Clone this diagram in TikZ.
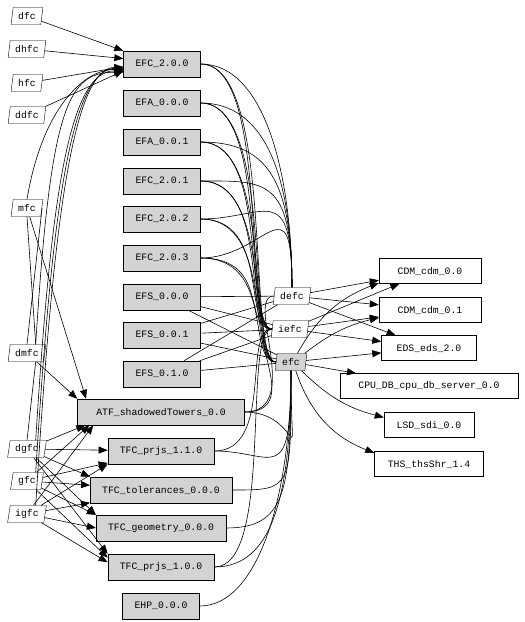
\documentclass[tikz,border=0pt]{standalone}
\usepackage{fontspec}
\setmonofont{Liberation Mono}
\usetikzlibrary{arrows.meta,shapes.geometric}
\definecolor{boxgray}{HTML}{D3D3D3}

\begin{document}
\begin{tikzpicture}[x=1pt,y=-1pt,
  every node/.style={font=\ttfamily\fontsize{9.8}{11}\selectfont},
  comp/.style={draw,fill=boxgray,minimum height=26pt,inner xsep=12pt,inner ysep=0pt},
  res/.style={draw,fill=white,minimum height=25pt,inner sep=0pt},
  proc/.style={draw,fill=white,trapezium,trapezium left angle=74,trapezium right angle=106,trapezium stretches=true,minimum height=17pt,inner xsep=5pt,inner ysep=0pt},
  dep/.style={line width=0.6pt},
  arr/.style={line width=0.6pt,-{Triangle[length=9pt,width=7pt]}}]
\useasboundingbox (0,0) rectangle (525,622);
% fc nodes on the left
\foreach \n/\y in {dfc/16,dhfc/49,hfc/83,ddfc/115,mfc/208,dmfc/353,dgfc/449,gfc/481,igfc/514}
  \node[proc] (\n) at (27,\y) {\n};
% components
\foreach \n/\t/\y in {EFC200/EFC\_2.0.0/64,EFA000/EFA\_0.0.0/103,EFA001/EFA\_0.0.1/142,EFC201/EFC\_2.0.1/181,EFC202/EFC\_2.0.2/219,EFC203/EFC\_2.0.3/258,EFS000/EFS\_0.0.0/297,EFS001/EFS\_0.0.1/335,EFS010/EFS\_0.1.0/374}
  \node[comp] (\n) at (162,\y) {\t};
\node[comp,minimum width=167pt] (ATF) at (161,412) {ATF\_shadowedTowers\_0.0};
\node[comp] (TFC110) at (161,451) {TFC\_prjs\_1.1.0};
\node[comp] (TFCtol) at (161,490) {TFC\_tolerances\_0.0.0};
\node[comp] (TFCgeo) at (161,528) {TFC\_geometry\_0.0.0};
\node[comp] (TFC100) at (161,567) {TFC\_prjs\_1.0.0};
\node[comp] (EHP) at (161,606) {EHP\_0.0.0};
% fc nodes in the middle
\node[proc] (defc) at (292,296) {defc};
\node[proc] (iefc) at (290,329) {iefc};
\node[proc,fill=boxgray] (efc) at (291,362) {efc};
% resources
\node[res,minimum width=102pt] (CDM00) at (430,271) {CDM\_cdm\_0.0};
\node[res,minimum width=102pt] (CDM01) at (430,310) {CDM\_cdm\_0.1};
\node[res,minimum width=95pt] (EDS) at (429,348) {EDS\_eds\_2.0};
\node[res,minimum width=178pt] (CPU) at (429,386) {CPU\_DB\_cpu\_db\_server\_0.0};
\node[res,minimum width=90pt] (LSD) at (429,425) {LSD\_sdi\_0.0};
\node[res,minimum width=109pt] (THS) at (429,464) {THS\_thsShr\_1.4};

% components to the middle fc nodes
\foreach \b in {EFC200,EFA000,EFA001,EFC201,EFC202,EFC203}
  \draw[dep] (\b.east) .. controls +(65,0) and +(0,-110) .. (defc.north);
\foreach \b in {EFC200,EFA000,EFA001,EFC201,EFC202,EFC203}{
  \draw[dep] (\b.east) .. controls +(70,0) and +(-30,0) .. (iefc.west);
  \draw[dep] (\b.east) .. controls +(75,0) and +(-30,0) .. (efc.west);}
\foreach \b in {EFS000,EFS001,EFS010}{
  \draw[dep] (\b) -- (defc);
  \draw[dep] (\b) -- (iefc);
  \draw[dep] (\b) -- (efc);}
\foreach \b in {ATF,TFC110,TFCtol,TFCgeo,TFC100,EHP}
  \draw[dep] (\b.east) .. controls +(60,0) and +(0,120) .. (efc.south);
\foreach \b in {ATF,TFC110,TFC100}
  \draw[dep] (\b.east) .. controls +(60,0) and +(-30,0) .. (iefc.west);
\draw[dep] (ATF.east) .. controls +(60,0) and +(-30,0) .. (defc.west);

% middle fc nodes to resources
\foreach \s/\t in {defc/CDM00,defc/CDM01,defc/EDS,iefc/CDM00,iefc/CDM01,iefc/EDS,efc/EDS,efc/CPU}
  \draw[arr] (\s) -- (\t);
\draw[arr] (efc) to[bend left=20] (CDM00);
\draw[arr] (efc) to[bend left=12] (CDM01);
\draw[arr] (efc) to[bend right=15] (LSD);
\draw[arr] (efc) to[bend right=25] (THS);

% left fc nodes to components
\draw[arr] (dfc) -- (EFC200.north west);
\draw[arr] (dhfc) -- (EFC200.172);
\draw[arr] (hfc) -- (EFC200.184);
\draw[arr] (ddfc) -- (EFC200.190);
\draw[arr] (mfc.north) .. controls +(15,-90) and +(-40,0) .. (EFC200.188);
\foreach \s/\a in {dmfc/192,dgfc/190,gfc/187,igfc/185}
  \draw[arr] (\s.north east) .. controls +(15,-240) and +(-55,0) .. (EFC200.\a);
\draw[dep] (mfc.south) -- (dmfc.north east);
\draw[dep] (mfc.east) -- (dmfc.north);
\draw[dep] (dmfc.south east) -- (dgfc.north);
\draw[arr] (mfc) -- (ATF.170);
\draw[arr] (dmfc) -- (ATF.north west);
\foreach \s/\x in {dgfc/8,gfc/12,igfc/16}
  \draw[arr] (\s) -- ([xshift=\x pt]ATF.south west);
\draw[arr] (dgfc) -- (TFC110);
\draw[arr] (gfc) -- (TFC110);
\draw[arr] (igfc) -- (TFC110.south west);
\draw[arr] (dgfc) -- (TFCtol.north west);
\draw[arr] (gfc) -- (TFCtol);
\draw[arr] (igfc) -- (TFCtol);
\draw[arr] (dgfc) -- (TFCgeo.north west);
\draw[arr] (gfc) -- (TFCgeo.north west);
\draw[arr] (igfc) -- (TFCgeo.west);
\draw[arr] (dgfc) -- (TFC100.north west);
\draw[arr] (gfc) -- (TFC100.170);
\draw[arr] (igfc) -- (TFC100.175);
\end{tikzpicture}
\end{document}
